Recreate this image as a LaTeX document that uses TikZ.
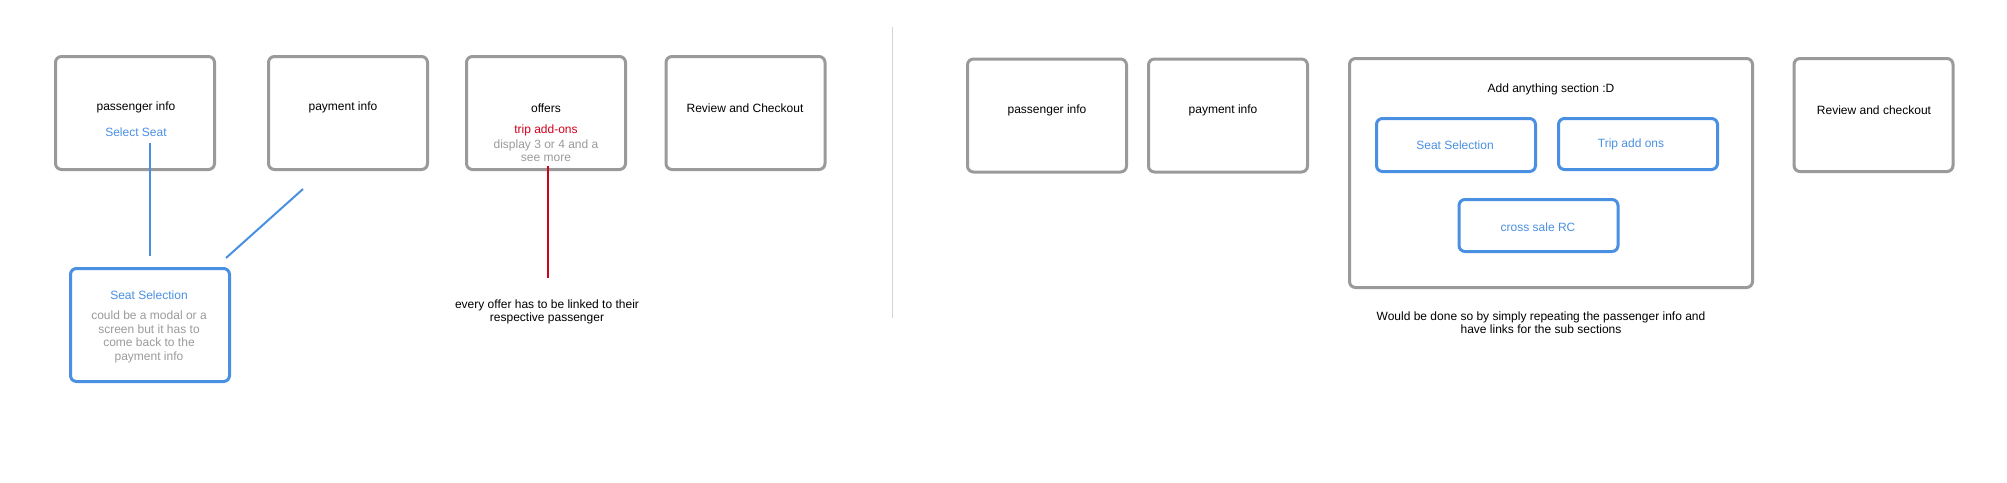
\documentclass[tikz,border=0pt]{standalone}
\usepackage{fontspec}
\setmainfont{Liberation Sans}
\definecolor{boxgray}{HTML}{9A9A9A}
\definecolor{lineblue}{HTML}{4A90E2}
\definecolor{txtgray}{HTML}{9B9B9B}
\definecolor{offred}{HTML}{D0021B}
\definecolor{sepgray}{HTML}{D4D4D4}
\begin{document}
\begin{tikzpicture}[x=1pt,y=-1pt,
  screen/.style={draw=boxgray, line width=3pt, rounded corners=6pt, inner sep=0pt, minimum width=159pt, minimum height=113pt},
  bluebox/.style={draw=lineblue, line width=3pt, rounded corners=6pt, inner sep=0pt, minimum width=159pt},
  lbl/.style={inner sep=0pt, font=\fontsize{12}{13.6}\selectfont, align=center, yshift=-0.8pt},
  bluetxt/.style={lbl, text=lineblue},
  graytxt/.style={lbl, text=txtgray},
  redtxt/.style={lbl, text=offred},
  blueline/.style={draw=lineblue, line width=2pt},
  redline/.style={draw=offred, line width=2pt},
  sepline/.style={draw=sepgray, line width=1pt}]
\useasboundingbox[fill=white] (0,0) rectangle (2007,482);

% ---------- left flow ----------
\node[screen] (b1) at (135,113) {};
\node[screen] (b2) at (348,113) {};
\node[screen] (b3) at (546,113) {};
\node[screen] (b4) at (745.5,113) {};
\node[lbl] (t1) at (136,107) {passenger info};
\node[bluetxt] (s1) at (136,131) {Select Seat};
\node[lbl] (t2) at (343,107) {payment info};
\node[lbl] (t3) at (546,107) {offers};
\node[redtxt] (r3) at (546,130) {trip add-ons};
\node[graytxt] (g3) at (546,150) {display 3 or 4 and a\\see more};
\node[lbl] (t4) at (745,107) {Review and Checkout};

\node[bluebox, minimum height=113pt] (ss) at (150,325) {};
\node[bluetxt] (sst) at (149,294) {Seat Selection};
\node[graytxt] (ssg) at (149,336) {could be a modal or a\\screen but it has to\\come back to the\\payment info};

\coordinate (v1a) at (150,143);
\coordinate (v1b) at (150,256);
\coordinate (d1a) at (303,189);
\coordinate (d1b) at (226,258);
\coordinate (ra) at (548,166);
\coordinate (rb) at (548,278);
\path[blueline] (v1a) -- (v1b);
\path[blueline] (d1a) -- (d1b);
\path[redline] (ra) -- (rb);

\node[lbl] (note1) at (547,311) {every offer has to be linked to their\\respective passenger};

% ---------- separator ----------
\coordinate (sa) at (892,27);
\coordinate (sb) at (892,318);
\path[sepline] (sa) -- (sb);

% ---------- right flow ----------
\node[screen] (rb1) at (1047,115.5) {};
\node[screen] (rb2) at (1228,115.5) {};
\node[lbl] (rt1) at (1047,110) {passenger info};
\node[lbl] (rt2) at (1223,110) {payment info};

\node[screen, minimum width=403pt, minimum height=229pt] (big) at (1551,173) {};
\node[lbl] (bigt) at (1551,89) {Add anything section :D};
\node[bluebox, minimum height=53pt] (sel) at (1456,145) {};
\node[bluetxt] (selt) at (1455,144) {Seat Selection};
\node[bluebox, minimum height=51pt] (trip) at (1638,144) {};
\node[bluetxt] (tript) at (1631,144) {Trip add ons};
\node[bluebox, minimum height=52pt] (cross) at (1538.5,225.5) {};
\node[bluetxt] (crosst) at (1538,226) {cross sale RC};

\node[screen] (rb4) at (1873.5,115) {};
\node[lbl] (rt4) at (1874,109) {Review and checkout};

\node[lbl] (note2) at (1541,322) {Would be done so by simply repeating the passenger info and\\have links for the sub sections};
\end{tikzpicture}
\end{document}
